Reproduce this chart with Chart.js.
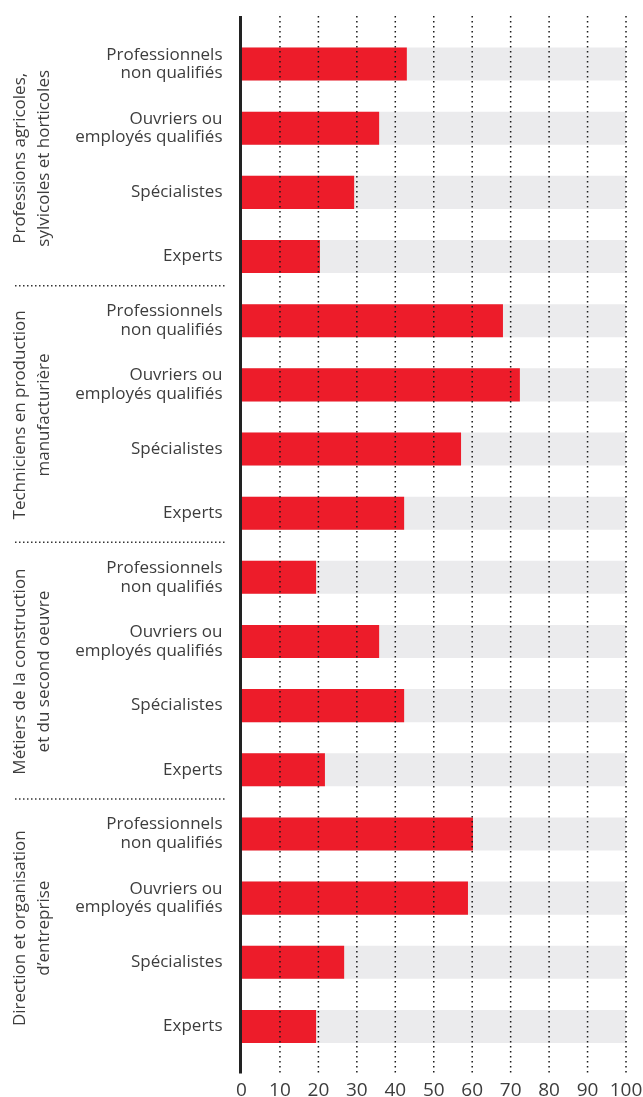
<!DOCTYPE html>
<html><head><meta charset="utf-8">
<script src="https://cdn.jsdelivr.net/npm/chart.js@4/dist/chart.umd.min.js"></script>
<style>html,body{margin:0;padding:0;background:#fff}</style>
</head><body>
<canvas id="c" width="643" height="1097"></canvas>
<script>
const groupLabels = [
  ["Professions agricoles,", "sylvicoles et horticoles"],
  ["Techniciens en production", "manufacturière"],
  ["Métiers de la construction", "et du second oeuvre"],
  ["Direction et organisation", "d’entreprise"]
];
const groupSize = 4;
const categories = [
  ["Professionnels","non qualifiés"], ["Ouvriers ou","employés qualifiés"], "Spécialistes", "Experts",
  ["Professionnels","non qualifiés"], ["Ouvriers ou","employés qualifiés"], "Spécialistes", "Experts",
  ["Professionnels","non qualifiés"], ["Ouvriers ou","employés qualifiés"], "Spécialistes", "Experts",
  ["Professionnels","non qualifiés"], ["Ouvriers ou","employés qualifiés"], "Spécialistes", "Experts"
];
const values = [43.0, 35.8, 29.3, 20.4, 68.0, 72.4, 57.1, 42.3, 19.4, 35.8, 42.3, 21.7, 60.2, 58.9, 26.7, 19.4];
const fullScale = [100, 100, 100, 100, 100, 100, 100, 100, 100, 100, 100, 100, 100, 100, 100, 100];
const xTicks = [0, 10, 20, 30, 40, 50, 60, 70, 80, 90, 100];

const FONT = "'Open Sans', 'DejaVu Sans', sans-serif";
const TEXT = '#3d3d3d';

const overlay = {
  id: 'overlay',
  afterDatasetsDraw(chart) {
    const {ctx, chartArea, scales: {x, y}} = chart;
    const top = chartArea.top - 16, bottom = chartArea.bottom + 14;
    ctx.save();
    ctx.strokeStyle = '#1a1a1a';
    ctx.lineWidth = 1.5;
    ctx.setLineDash([1.5, 3.5]);
    xTicks.forEach(v => {
      if (v === 0) return;
      const px = x.getPixelForValue(v);
      ctx.beginPath(); ctx.moveTo(px, top); ctx.lineTo(px, bottom); ctx.stroke();
    });
    ctx.setLineDash([]);
    ctx.strokeStyle = '#222';
    ctx.lineWidth = 3;
    const x0 = x.getPixelForValue(0) - 1;
    ctx.beginPath(); ctx.moveTo(x0, top); ctx.lineTo(x0, bottom + 1); ctx.stroke();
    ctx.strokeStyle = '#333';
    ctx.lineWidth = 1.5;
    ctx.setLineDash([1.5, 2.5]);
    const n = groupLabels.length;
    for (let g = 0; g < n; g++) {
      const first = g * groupSize, last = first + groupSize - 1;
      if (g < n - 1) {
        const sy = (y.getPixelForValue(last) + y.getPixelForValue(last + 1)) / 2 - 3;
        ctx.beginPath(); ctx.moveTo(15, sy); ctx.lineTo(225, sy); ctx.stroke();
      }
      const yc = (y.getPixelForValue(first) + y.getPixelForValue(last)) / 2 - 2;
      ctx.save();
      ctx.translate(32, yc);
      ctx.rotate(-Math.PI / 2);
      ctx.fillStyle = TEXT;
      ctx.font = '17px ' + FONT;
      ctx.textAlign = 'center';
      ctx.textBaseline = 'middle';
      ctx.fillText(groupLabels[g][0], 0, -12);
      ctx.fillText(groupLabels[g][1], 0, 12);
      ctx.restore();
    }
    ctx.restore();
  }
};

new Chart(document.getElementById('c'), {
  type: 'bar',
  data: {
    labels: categories,
    datasets: [
      {data: values, backgroundColor: '#ED1C2A'},
      {data: fullScale, backgroundColor: '#EBEBED'}
    ]
  },
  options: {
    indexAxis: 'y',
    responsive: false,
    animation: false,
    layout: {padding: {top: 32, right: 17, left: 0, bottom: 0}},
    datasets: {bar: {categoryPercentage: 1, barPercentage: 0.515, grouped: false}},
    plugins: {legend: {display: false}, tooltip: {enabled: false}},
    scales: {
      x: {
        min: 0, max: 100,
        afterBuildTicks: s => { s.ticks = xTicks.map(v => ({value: v})); },
        grid: {display: false, drawTicks: false},
        border: {display: false},
        ticks: {padding: 21, color: TEXT, font: {family: FONT, size: 19}, maxRotation: 0, autoSkip: false},
        afterFit: s => { s.height = 38.5; s.paddingLeft = 0; s.paddingRight = 0; }
      },
      y: {
        grid: {display: false, drawTicks: false},
        border: {display: false},
        ticks: {padding: 19, color: TEXT, font: {family: FONT, size: 17, lineHeight: 1.1}, autoSkip: false},
        afterFit: s => { s.width = 241.5; s.paddingTop = 0; s.paddingBottom = 0; }
      }
    }
  },
  plugins: [overlay]
});
</script>
</body></html>
